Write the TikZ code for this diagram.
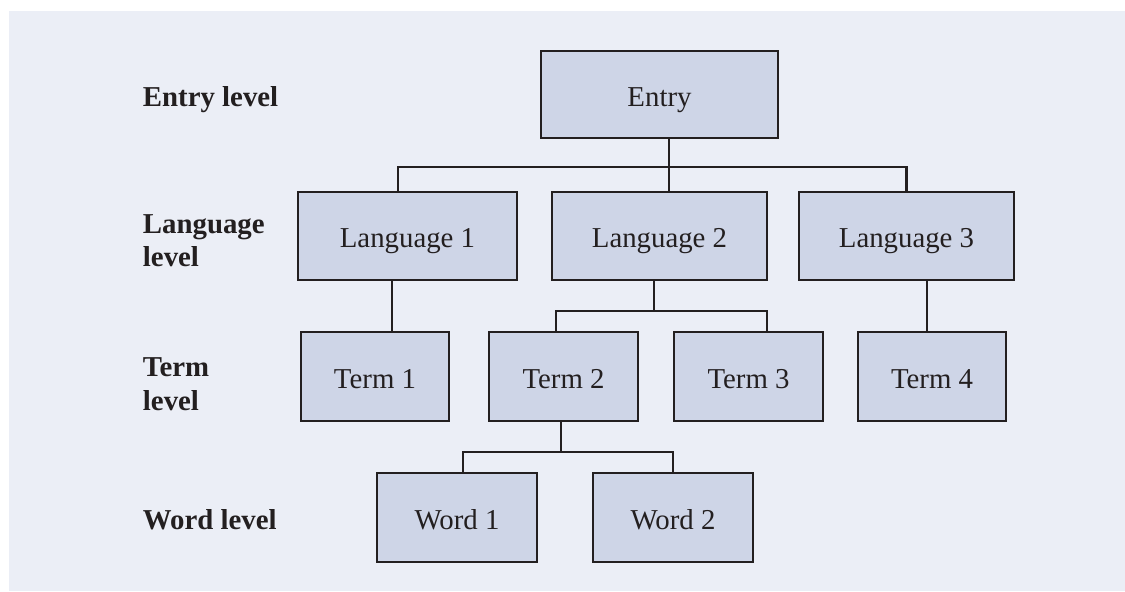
\documentclass[tikz,border=0pt]{standalone}
\usepackage{fontspec}
\setmainfont{Liberation Serif}
\usepackage{tikz}
\usetikzlibrary{positioning}
\usepackage{xcolor}
\definecolor{panelgray}{RGB}{235, 238, 246}
\definecolor{boxblue}{RGB}{206, 213, 231}
\definecolor{inkdark}{RGB}{35, 31, 32}

\begin{document}
\begin{tikzpicture}[
        box/.style={draw=inkdark, fill=boxblue, line width=2.1pt,
                    minimum height=2.2cm, inner sep=0pt,
                    text height=17pt, text depth=0pt,
                    font=\fontsize{20.5}{23.5}\selectfont, text=inkdark},
        levelname/.style={anchor=base west, align=left,
                    font=\fontsize{20.5}{23.5}\selectfont\bfseries, text=inkdark},
        link/.style={draw=inkdark, line width=1.7pt},
      ]
        \useasboundingbox (0,0) rectangle (28.125,14.775);
        \fill[panelgray] (0.225,0) rectangle (28.125,14.5);

        % level captions on the left (base = last line)
        \node[levelname] (lvlentry) at (3.45,12.1) {Entry level};
        \node[levelname] (lvllang) at (3.45,8.1) {Language\\level};
        \node[levelname] (lvlterm) at (3.45,4.525) {Term\\level};
        \node[levelname] (lvlword) at (3.45,1.55) {Word level};

        % the tree
        \node[box, minimum width=5.925cm, minimum height=2.175cm] (entry) at (16.4875,12.4125) {Entry};

        \node[box, minimum width=5.475cm] (lang1) at (10.1875,8.875) {Language 1};
        \node[box, minimum width=5.375cm] (lang2) at (16.4875,8.875) {Language 2};
        \node[box, minimum width=5.375cm] (lang3) at (22.6625,8.875) {Language 3};

        \node[box, minimum width=3.7cm, minimum height=2.225cm] (term1) at (9.375,5.3625) {Term 1};
        \node[box, minimum width=3.725cm, minimum height=2.225cm] (term2) at (14.0875,5.3625) {Term 2};
        \node[box, minimum width=3.725cm, minimum height=2.225cm] (term3) at (18.7125,5.3625) {Term 3};
        \node[box, minimum width=3.7cm, minimum height=2.225cm] (term4) at (23.3,5.3625) {Term 4};

        \node[box, minimum width=4cm, minimum height=2.225cm] (word1) at (11.425,1.8375) {Word 1};
        \node[box, minimum width=4cm, minimum height=2.225cm] (word2) at (16.825,1.8375) {Word 2};

        % entry -> languages
        \coordinate (top) at (16.725,10.6);
        \draw[link] (entry.south -| top) -- (lang2.north -| top);
        \draw[link] ([xshift=-2.4mm]lang1.north) |- (top) -| (lang3.north);

        % languages -> terms
        \coordinate (mid) at (16.35,7.0);
        \draw[link] (lang2.south -| mid) -- (mid);
        \draw[link] ([xshift=-1.9mm]term2.north) |- (mid) -| ([xshift=4.6mm]term3.north);
        \draw[link] (lang1.south -| 9.8,0) -- (term1.north -| 9.8,0);
        \draw[link] (lang3.south -| 23.175,0) -- (term4.north -| 23.175,0);

        % term -> words
        \coordinate (low) at (14.025,3.475);
        \draw[link] (term2.south -| low) -- (low);
        \draw[link] ([xshift=1.5mm]word1.north) |- (low) -| (word2.north);
      \end{tikzpicture}
\end{document}
